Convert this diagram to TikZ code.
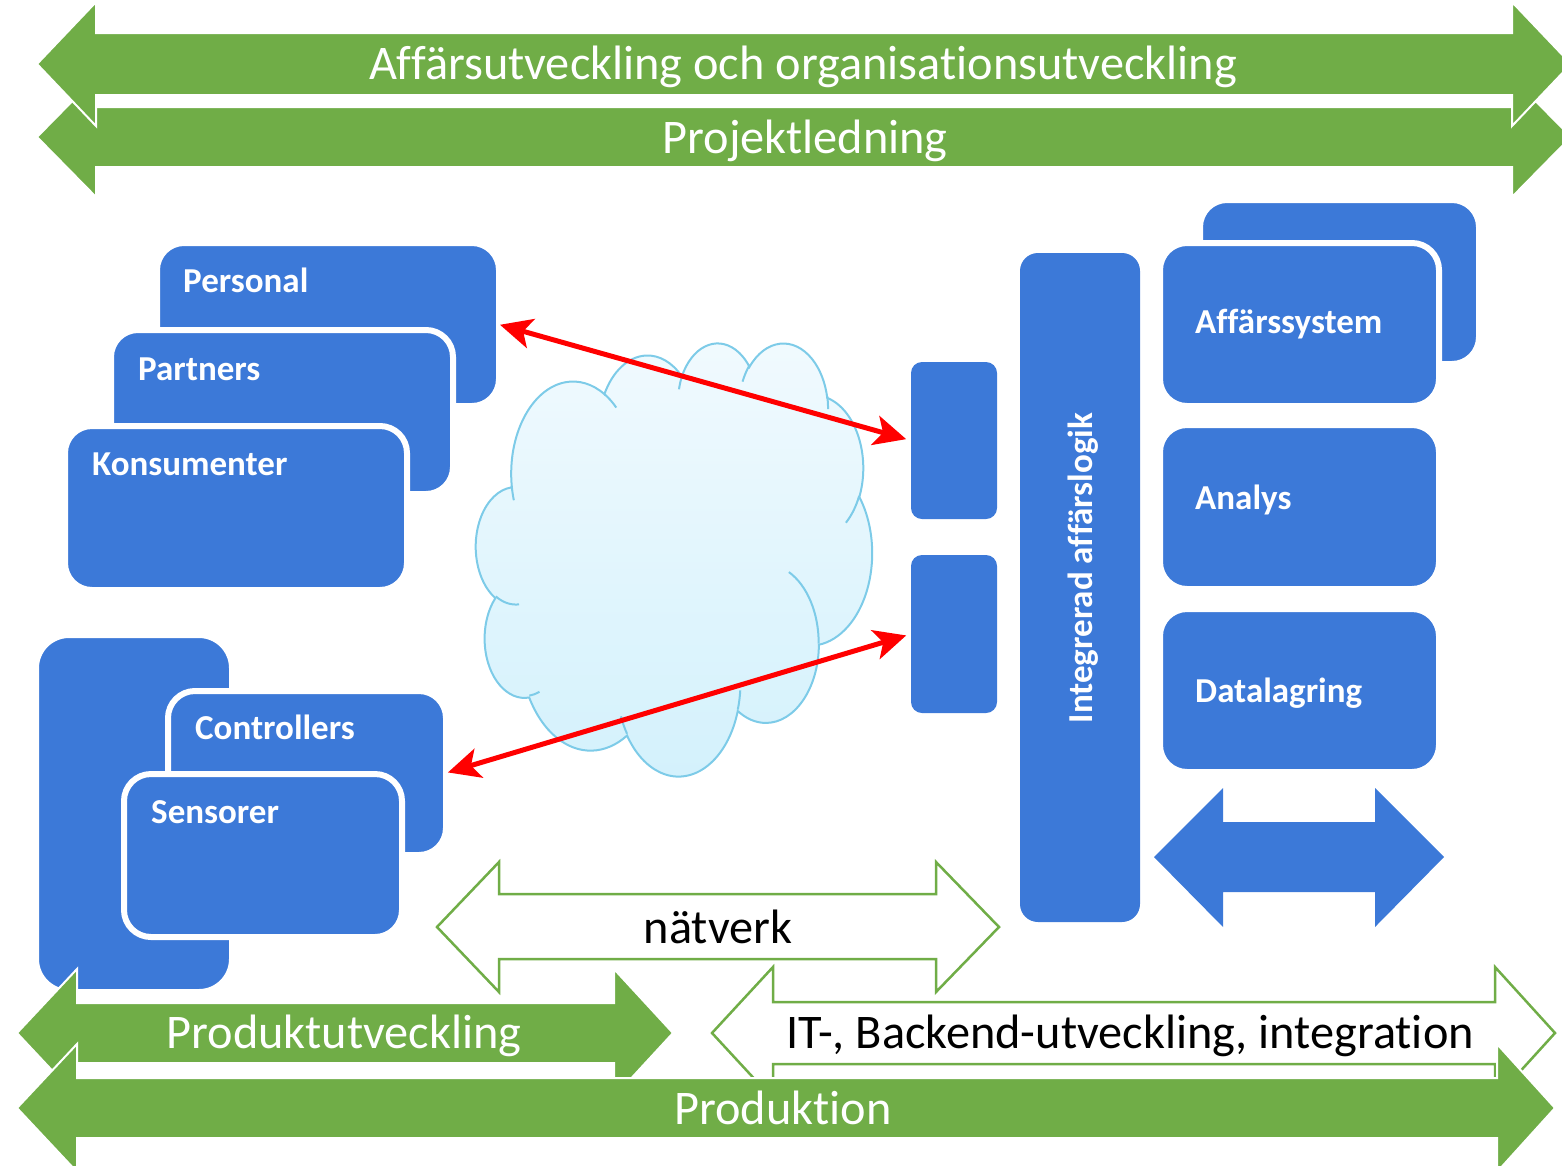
\documentclass[tikz,border=0pt]{standalone}
\usepackage{fontspec}
\setmainfont{Carlito}[Ligatures=NoCommon]
\usetikzlibrary{arrows.meta}
\definecolor{bandgreen}{RGB}{112,173,71}
\definecolor{boxblue}{RGB}{60,121,216}
\definecolor{cloudtop}{RGB}{241,250,254}
\definecolor{cloudbottom}{RGB}{211,241,252}
\definecolor{cloudedge}{RGB}{125,203,232}
\newcommand\cloudarc[4]{arc[x radius=#1, y radius=#2,
  start angle={atan2(#1*sin(#3),#2*cos(#3))},
  delta angle={mod(atan2(#1*sin(#3+#4),#2*cos(#3+#4))-atan2(#1*sin(#3),#2*cos(#3))+720,360)}]}

\begin{document}
\begin{tikzpicture}[x=1pt, y=-1pt,
  greenband/.style={fill=bandgreen, draw=white, line width=2pt},
  openband/.style={fill=white, draw=bandgreen, line width=2.5pt},
  bandtext/.style={text=white, font=\fontsize{48.3}{56}\selectfont, anchor=base, inner sep=0pt},
  bluebox/.style={fill=boxblue, draw=white, line width=6pt, rounded corners=27pt, anchor=north west, inner sep=0pt, outer sep=0pt},
  boxlabel/.style={text=white, font=\bfseries\fontsize{35}{40}\selectfont, anchor=base west, inner sep=0pt},
  cloudshape/.style={draw=cloudedge, line width=2pt},
  redarrow/.style={red, line width=5pt, {Stealth[length=32pt,width=30pt,inset=8pt]}-{Stealth[length=32pt,width=30pt,inset=8pt]}}]
\useasboundingbox (0,0) rectangle (1562,1165);

% top bands
\draw[greenband] (37,137) -- (96,77) -- (96,107) -- (1512,107) -- (1512,77) -- (1571,137) -- (1512,197) -- (1512,167) -- (96,167) -- (96,197) -- cycle;
\node[bandtext] (projekt) at (805,153) {Projektledning};
\draw[greenband] (37,64) -- (96,2) -- (96,33) -- (1512,33) -- (1512,2) -- (1571,64) -- (1512,126) -- (1512,95) -- (96,95) -- (96,126) -- cycle;
\node[bandtext] (affarsutv) at (803,79) {Affärsutveckling och organisationsutveckling};

% users
\node[bluebox, minimum width=342pt, minimum height=163pt] (personal) at (157,243) {};
\node[boxlabel] (personaltext) at ([shift={(26,49)}]personal.north west) {Personal};
\node[bluebox, minimum width=342pt, minimum height=164pt] (partners) at (111,330) {};
\node[boxlabel] (partnerstext) at ([shift={(27,50)}]partners.north west) {Partners};
\node[bluebox, minimum width=342pt, minimum height=164pt] (konsumenter) at (65,426) {};
\node[boxlabel] (konsumentertext) at ([shift={(27,49)}]konsumenter.north west) {Konsumenter};

% devices
\node[bluebox, rounded corners=33pt, minimum width=196pt, minimum height=357pt] (enheter) at (36,635) {};
\node[bluebox, minimum width=278pt, minimum height=164pt] (controllers) at (168,691) {};
\node[boxlabel] (controllerstext) at ([shift={(27,48)}]controllers.north west) {Controllers};
\node[bluebox, minimum width=278pt, minimum height=163pt] (sensorer) at (124,774) {};
\node[boxlabel] (sensorertext) at ([shift={(27,49)}]sensorer.north west) {Sensorer};

% backend
\node[bluebox, minimum width=279pt, minimum height=164pt] (affarsback) at (1200,200) {};
\node[bluebox, minimum width=279pt, minimum height=163pt] (affarssystem) at (1160,243) {};
\node[boxlabel] (affarssystemtext) at ([shift={(35,90)}]affarssystem.north west) {Affärssystem};
\node[bluebox, minimum width=279pt, minimum height=164pt] (analys) at (1160,425) {};
\node[boxlabel] (analystext) at ([shift={(35,84)}]analys.north west) {Analys};
\node[bluebox, minimum width=279pt, minimum height=163pt] (datalagring) at (1160,609) {};
\node[boxlabel] (datalagringtext) at ([shift={(35,93)}]datalagring.north west) {Datalagring};
\node[bluebox, draw=none, rounded corners=18pt, minimum width=120pt, minimum height=669pt] (logik) at (1020,253) {};
\node[boxlabel, anchor=base, rotate=90] (logiktext) at (1092,568) {Integrerad affärslogik};
\node[bluebox, draw=none, rounded corners=11pt, minimum width=86pt, minimum height=157pt] (port1) at (911,362) {};
\node[bluebox, draw=none, rounded corners=11pt, minimum width=86pt, minimum height=158pt] (port2) at (911,555) {};
\fill[boxblue] (1154,857) -- (1223,788) -- (1223,822) -- (1375,822) -- (1375,788) -- (1444,857) -- (1375,927) -- (1375,892) -- (1223,892) -- (1223,927) -- cycle;

% cloud
\begin{scope}[shift={(476,342)}, x=0.9167pt, y=-1.0023pt]
\draw[cloudshape, top color=cloudtop, bottom color=cloudbottom] (39.00,143.70)
  \cloudarc{67.53}{91.90}{-190.4875}{123.7805}
  \cloudarc{53.33}{72.67}{-144.1024}{89.9452}
  \cloudarc{43.65}{59.45}{-145.8079}{99.7230}
  \cloudarc{48.57}{65.95}{-130.9861}{117.2417}
  \cloudarc{53.33}{72.73}{-78.7089}{109.0269}
  \cloudarc{67.75}{92.20}{-46.2673}{130.2690}
  \cloudarc{57.85}{78.67}{0.6250}{114.0333}
  \cloudarc{67.52}{92.15}{22.4516}{115.1726}
  \cloudarc{77.20}{105.43}{66.2426}{75.7110}
  \cloudarc{43.60}{59.18}{-274.9421}{146.7356}
  \cloudarc{43.45}{59.45}{-246.8285}{152.5189}
  -- cycle;
\draw[cloudshape]
  (46.93,261.77) \cloudarc{43.45}{59.45}{86.7420}{26.4295}
  (69.28,348.99) \cloudarc{43.60}{59.18}{73.6105}{11.4475}
  (164.78,390.90) \cloudarc{67.52}{92.15}{137.6242}{14.0811}
  (288.27,347.51) \cloudarc{67.52}{92.15}{6.4533}{15.9984}
  (341.29,229.54) \cloudarc{57.85}{78.67}{-70.2924}{70.9174}
  (417.98,153.54) \cloudarc{53.33}{72.73}{30.3180}{27.7515}
  (383.24,54.26) \cloudarc{48.57}{65.95}{-13.7443}{14.8589}
  (290.78,39.52) \cloudarc{48.57}{65.95}{-149.1815}{18.1954}
  (221.41,47.20) \cloudarc{43.65}{59.45}{-163.4943}{17.6864}
  (140.00,51.92) \cloudarc{67.53}{91.90}{-66.7070}{12.3194}
  (41.27,157.89) \cloudarc{67.53}{91.90}{157.6544}{11.8582};
\end{scope}

% links
\draw[redarrow, shorten <=1pt, shorten >=5pt] (personal.east) -- (port1.west);
\draw[redarrow, shorten <=2pt, shorten >=5pt] (controllers.east) -- (port2.west);

% bottom bands
\draw[openband] (437,927) -- (499,862) -- (499,894) -- (936,894) -- (936,862) -- (999,927) -- (936,992) -- (936,959) -- (499,959) -- (499,992) -- cycle;
\node[bandtext, text=black] (natverk) at (718,943) {nätverk};
\draw[greenband] (17,1033) -- (77,969) -- (77,1003) -- (614,1003) -- (614,969) -- (673,1033) -- (614,1097) -- (614,1063) -- (77,1063) -- (77,1097) -- cycle;
\node[bandtext] (produktutv) at (344,1048) {Produktutveckling};
\draw[openband] (712,1033) -- (773,967) -- (773,1002) -- (1495,1002) -- (1495,967) -- (1555,1033) -- (1495,1099) -- (1495,1064) -- (773,1064) -- (773,1099) -- cycle;
\node[bandtext, text=black] (backend) at (1130,1048) {IT-, Backend-utveckling, integration};
\draw[greenband] (17,1108) -- (77,1044) -- (77,1078) -- (1497,1078) -- (1497,1044) -- (1555,1108) -- (1497,1172) -- (1497,1138) -- (77,1138) -- (77,1172) -- cycle;
\node[bandtext] (produktion) at (783,1124) {Produktion};
\end{tikzpicture}
\end{document}
